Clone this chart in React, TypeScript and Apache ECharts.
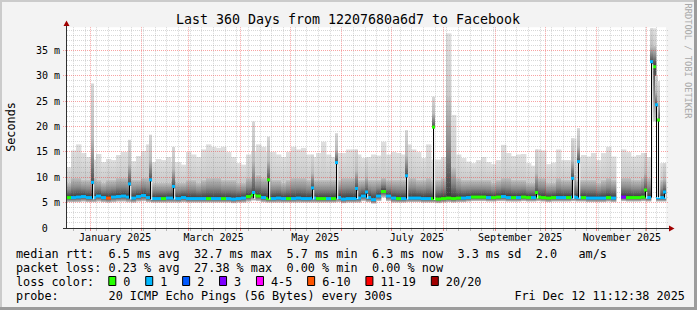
import React, { useEffect, useRef } from 'react';
import * as echarts from 'echarts';

// ---------- time range ----------
const START = '2024-12-17T11:12:38';
const END = '2025-12-12T11:12:38';
const BIN_DAYS = 3;
const Y_MAX = 39.6;

// ---------- smoke bins (3 days each, ms) ----------
const smokeMax = [
  12.0, 15.3, 16.5, 14.8, 14.0, 13.5, 14.6, 13.0, 13.6, 13.4,
  14.4, 15.0, 15.0, 13.2, 14.2, 15.2, 16.5, 13.0, 13.6, 13.4,
  14.0, 13.0, 13.0, 12.5, 15.0, 14.5, 14.0, 15.5, 16.5, 16.0,
  15.8, 16.0, 15.0, 14.0, 12.8, 12.5, 14.5, 15.0, 16.5, 16.0,
  15.0, 15.0, 14.5, 14.0, 15.0, 16.0, 15.5, 15.8, 14.5, 14.0,
  14.8, 17.0, 14.5, 14.0, 14.8, 14.8, 15.5, 15.5, 14.5, 13.8,
  14.0, 14.5, 14.3, 17.0, 14.5, 15.0, 14.8, 14.5, 16.5, 15.5,
  15.0, 13.8, 16.5, 13.5, 13.5, 14.0, 38.4, 22.3, 14.5, 13.8,
  13.1, 12.8, 13.4, 14.0, 13.0, 12.6, 13.4, 16.4, 14.8, 14.2,
  14.5, 14.6, 12.8, 12.3, 15.5, 15.3, 12.6, 12.9, 15.5, 13.4,
  13.4, 17.7, 14.0, 14.4, 14.1, 14.8, 13.4, 14.8, 16.0, 14.1,
  null, 15.5, 15.0, 14.1, 14.4, 14.8, 14.0, 39.4, 12.8, 12.8,
];
const smokeMid = [
  9.0, 10.0, 10.0, 9.5, 9.5, 10.0, 9.5, 9.0, 9.5, 9.5,
  10.0, 10.0, 10.0, 9.5, 9.5, 10.0, 10.0, 9.0, 9.0, 9.0,
  9.0, 9.5, 9.0, 9.0, 9.5, 9.5, 9.0, 9.5, 10.0, 10.0,
  10.0, 9.5, 9.5, 9.5, 9.0, 9.0, 10.0, 10.0, 10.5, 10.0,
  10.0, 9.5, 9.5, 9.0, 9.5, 10.0, 10.0, 10.0, 9.5, 9.5,
  9.5, 9.5, 9.5, 9.5, 9.5, 10.0, 10.0, 10.0, 9.5, 9.5,
  9.5, 9.5, 9.5, 10.0, 9.5, 9.5, 9.5, 9.5, 10.0, 10.0,
  9.5, 9.5, 10.0, 9.5, 9.5, 10.0, 26.0, 12.0, 10.0, 9.5,
  9.5, 9.5, 9.5, 9.5, 9.5, 9.0, 9.5, 10.0, 10.0, 9.5,
  9.5, 9.5, 9.0, 9.0, 10.0, 10.0, 9.0, 9.0, 10.0, 9.5,
  9.5, 10.5, 9.5, 9.5, 9.5, 9.5, 9.0, 9.5, 10.0, 9.5,
  null, 10.0, 10.0, 9.5, 9.5, 10.0, 10.0, 36.0, 9.5, 9.5,
];
const smokeLow = [
  5.1, 5.1, 5.1, 5.2, 5.1, 5.1, 5.2, 5.1, 5.0, 5.1,
  5.2, 5.2, 5.1, 5.0, 5.2, 5.3, 5.1, 5.0, 5.0, 5.0,
  5.0, 5.0, 5.0, 5.1, 5.0, 5.0, 5.0, 5.0, 5.0, 5.0,
  5.0, 5.0, 5.0, 4.9, 5.0, 5.0, 5.2, 5.4, 5.3, 5.1,
  5.0, 5.0, 5.0, 5.0, 5.0, 5.0, 5.0, 5.0, 5.0, 5.0,
  5.0, 5.0, 5.0, 5.0, 5.1, 4.9, 5.0, 5.0, 5.0, 5.3,
  5.1, 4.8, 5.3, 6.0, 5.3, 5.0, 5.0, 5.0, 5.1, 5.1,
  5.1, 5.0, 5.0, 5.0, 4.9, 5.0, 5.1, 5.0, 5.1, 5.1,
  5.2, 5.3, 5.3, 5.3, 5.2, 5.2, 5.3, 5.3, 5.2, 5.2,
  5.2, 5.3, 5.2, 5.2, 5.3, 5.2, 5.1, 5.2, 5.2, 5.2,
  5.2, 5.3, 5.2, 5.2, 5.1, 5.1, 5.1, 5.1, 5.2, 5.1,
  null, 5.3, 5.2, 5.2, 5.2, 5.3, 5.2, 21.0, 5.2, 5.2,
];
const medianRtt = [
  6.0, 6.0, 6.1, 6.2, 6.0, 6.0, 6.3, 6.0, 5.9, 6.1,
  6.2, 6.3, 6.1, 5.9, 6.2, 6.4, 6.0, 5.8, 5.8, 5.8,
  5.9, 5.9, 5.8, 6.0, 5.8, 5.8, 5.8, 5.8, 5.8, 5.8,
  5.8, 5.8, 5.8, 5.7, 5.8, 5.9, 6.2, 6.5, 6.3, 6.0,
  5.8, 5.8, 5.9, 5.8, 5.8, 5.8, 5.9, 5.8, 5.8, 5.9,
  5.8, 5.8, 5.8, 5.8, 6.0, 5.7, 5.8, 5.8, 5.9, 6.3,
  6.0, 5.6, 6.3, 7.2, 6.3, 5.9, 5.8, 5.8, 5.9, 5.9,
  5.9, 5.8, 5.8, 5.8, 5.7, 5.8, 5.9, 5.8, 5.9, 5.9,
  6.0, 6.1, 6.1, 6.1, 6.0, 6.0, 6.1, 6.2, 6.0, 6.0,
  6.0, 6.1, 6.0, 6.0, 6.1, 6.0, 5.9, 6.0, 6.0, 6.0,
  6.0, 6.1, 6.0, 6.0, 5.9, 5.9, 5.9, 5.9, 6.0, 5.9,
  null, 6.1, 6.0, 6.0, 6.0, 6.1, 6.0, 31.8, 6.0, 6.0,
];
const lossCount = [
  0, 1, 1, 1, 1, 1, 1, 1, 6, 1,
  1, 1, 1, 1, 1, 1, 1, 1, 1, 0,
  1, 1, 1, 1, 1, 1, 1, 1, 0, 1,
  1, 0, 1, 1, 1, 1, 0, 0, 0, 1,
  0, 1, 1, 1, 0, 1, 1, 1, 1, 1,
  0, 0, 1, 0, 1, 1, 1, 1, 1, 1,
  1, 1, 1, 0, 1, 1, 0, 1, 1, 1,
  1, 1, 1, 0, 0, 0, 0, 0, 0, 1,
  1, 0, 0, 0, 1, 0, 0, 1, 1, 0,
  1, 0, 0, 1, 0, 0, 0, 0, 1, 1,
  0, 1, 1, 0, 1, 1, 1, 1, 0, 1,
  null, 3, 0, 0, 0, 0, 1, 0, 1, 1,
];

// ---------- short median spikes ----------
const spikeTimes = [
  '2025-01-02T14:00:00', '2025-01-24T19:00:00', '2025-02-06T00:00:00', '2025-02-20T02:00:00',
  '2025-04-08T19:00:00', '2025-04-18T00:00:00', '2025-05-14T14:00:00', '2025-05-28T14:00:00',
  '2025-06-10T00:00:00', '2025-06-15T14:00:00', '2025-07-10T00:00:00', '2025-07-26T00:00:00',
  '2025-09-25T19:00:00', '2025-10-17T10:00:00', '2025-10-20T19:00:00', '2025-11-30T05:00:00',
  '2025-12-03T19:00:00', '2025-12-06T14:00:00', '2025-12-07T19:00:00', '2025-12-11T14:00:00',
];
const spikeMedian = [9.0, 8.7, 9.5, 8.2, 7.0, 9.5, 7.9, 12.9, 7.8, 7.1, 10.3, 19.9, 7.0, 9.8, 13.1, 7.5, 32.8, 24.3, 21.3, 7.1];
const spikeTop = [28.5, 17.4, 18.4, 16.0, 21.0, 18.0, 14.5, 18.7, 15.5, 13.8, 19.3, 25.9, 15.5, 17.7, 19.7, 14.8, 39.4, 30.0, 29.0, 12.8];
const spikeLoss = [1, 1, 1, 1, 1, 0, 1, 1, 1, 1, 1, 0, 0, 1, 1, 0, 1, 1, 0, 1];
const spikeBase = [5.8, 5.8, 5.7, 5.8, 5.9, 5.8, 5.8, 5.8, 5.9, 6.0, 5.8, 5.7, 6.0, 5.9, 6.0, 6.0, 6.0, 6.1, 6.1, 6.0];

// ---------- axis / legend text ----------
const yTickValues = [0, 5, 10, 15, 20, 25, 30, 35];
const monthLabels = ['January 2025', 'March 2025', 'May 2025', 'July 2025', 'September 2025', 'November 2025'];
const monthLabelDates = ['2025-01-16T00:00:00', '2025-03-16T00:00:00', '2025-05-16T00:00:00', '2025-07-16T00:00:00', '2025-09-16T00:00:00', '2025-11-16T00:00:00'];
const titleText = 'Last 360 Days from 12207680a6d7 to Facebook';
const rttLegend = ['median rtt:', '6.5 ms avg', '32.7 ms max', '5.7 ms min', '6.3 ms now', '3.3 ms sd', '2.0', 'am/s'];
const rttCols = [0, 13, 25, 38, 50, 62, 73, 79];
const lossLegend = ['packet loss:', '0.23 % avg', '27.38 % max', '0.00 % min', '0.00 % now'];
const lossCols = [0, 13, 25, 38, 50];
const lossLabels = ['0', '1', '2', '3', '4-5', '6-10', '11-19', '20/20'];
const lossColors = ['#26ff00', '#00b8ff', '#0059ff', '#7e00ff', '#ff00ff', '#ff5500', '#ff0000', '#a10000'];
const probeText = '20 ICMP Echo Pings (56 Bytes) every 300s';
const dateText = 'Fri Dec 12 11:12:38 2025';

const FONT = '"DejaVu Sans Mono", monospace';
const DAY = 86400000;

function lossColor(n: number): string {
  if (n <= 0) return lossColors[0];
  if (n === 1) return lossColors[1];
  if (n === 2) return lossColors[2];
  if (n === 3) return lossColors[3];
  if (n <= 5) return lossColors[4];
  if (n <= 10) return lossColors[5];
  if (n <= 19) return lossColors[6];
  return lossColors[7];
}

function txt(text: string, x: number, y: number, size: number, align = 'left', extra: any = {}) {
  return {
    type: 'text', x, y, z: 100, silent: true, ...extra,
    style: {
      text, fill: extra.fill || '#000', font: `${size}px ${FONT}`,
      align, textAlign: align, verticalAlign: 'middle', textVerticalAlign: 'middle',
    },
  };
}

export default function App() {
  const ref = useRef<HTMLDivElement>(null);
  useEffect(() => {
    const el = ref.current;
    if (!el) return;
    const chart = echarts.init(el, null, { renderer: 'svg' });
    const startMs = new Date(START).getTime();
    const endMs = new Date(END).getTime();

    const binData: any[] = [];
    smokeMax.forEach((mx, i) => {
      if (mx == null) return;
      binData.push([startMs + i * BIN_DAYS * DAY, startMs + (i + 1) * BIN_DAYS * DAY,
        smokeLow[i], medianRtt[i], smokeMid[i], mx, lossCount[i]]);
    });
    const spikeData = spikeTimes.map((t, i) => [new Date(t).getTime(), spikeMedian[i], spikeTop[i], spikeLoss[i], spikeBase[i]]);

    // grid lines (axis ticks)
    const vData: any[] = [];
    const monthStarts: number[] = [];
    for (let m = 0; m < 12; m++) monthStarts.push(new Date(2025, m, 1).getTime());
    monthStarts.forEach((t) => vData.push([t, 1]));
    const d = new Date(2024, 11, 22);
    while (d.getTime() <= endMs) {
      const t = d.getTime();
      if (!monthStarts.includes(t)) vData.push([t, 0]);
      d.setDate(d.getDate() + 7);
    }
    const hData: any[] = [];
    for (let v = 1; v < Y_MAX; v++) hData.push([startMs, v, v % 5 === 0 ? 1 : 0]);
    const labelData = monthLabelDates.map((t, i) => [new Date(t).getTime(), i]);

    const MAJOR = 'rgba(240,50,50,0.45)';
    const MINOR = 'rgba(130,130,130,0.32)';

    const series: any[] = [
      {
        type: 'custom', name: 'smoke', z: 2, clip: false, silent: true,
        encode: { x: [0, 1], y: [2, 5] }, data: binData,
        renderItem: (p: any, api: any) => {
          const t0 = api.value(0), t1 = api.value(1);
          const lo = api.value(2), med = api.value(3), mid = api.value(4), mx = api.value(5);
          const a = api.coord([t0, lo]);
          const b = api.coord([t1, lo]);
          const yMed = api.coord([t0, med])[1];
          const yMid = api.coord([t0, mid])[1];
          const yMax = api.coord([t0, mx])[1];
          const x0 = a[0], w = b[0] - a[0] + 0.4, yLo = a[1];
          return {
            type: 'group', children: [
              { type: 'rect', shape: { x: x0, y: yMax, width: w, height: yMid - yMax },
                style: { fill: new echarts.graphic.LinearGradient(0, 0, 0, 1, [
                  { offset: 0, color: '#dfdfdf' }, { offset: 1, color: '#cacaca' }]) } },
              { type: 'rect', shape: { x: x0, y: yMid, width: w, height: yMed - yMid },
                style: { fill: new echarts.graphic.LinearGradient(0, 0, 0, 1, [
                  { offset: 0, color: '#c4c4c4' }, { offset: 0.5, color: '#8a8a8a' }, { offset: 1, color: '#383838' }]) } },
              { type: 'rect', shape: { x: x0, y: yMed, width: w, height: yLo - yMed },
                style: { fill: new echarts.graphic.LinearGradient(0, 0, 0, 1, [
                  { offset: 0, color: '#404040' }, { offset: 1, color: '#c8c8c8' }]) } },
            ],
          };
        },
      },
      {
        type: 'custom', name: 'spikeSmoke', z: 3, clip: false, silent: true,
        encode: { x: 0, y: 1 }, data: spikeData,
        renderItem: (p: any, api: any) => {
          const t = api.value(0), med = api.value(1), top = api.value(2);
          const x = Math.floor(api.coord([t, 0])[0]);
          const yMed = api.coord([t, med])[1];
          const yTop = api.coord([t, top])[1];
          return {
            type: 'rect', shape: { x: x - 1, y: yTop, width: 3, height: yMed - yTop },
            style: { fill: new echarts.graphic.LinearGradient(0, 0, 0, 1, [
              { offset: 0, color: '#d6d6d6' }, { offset: 0.55, color: '#bcbcbc' }, { offset: 1, color: '#505050' }]) },
          };
        },
      },
      {
        type: 'custom', name: 'hgrid', z: 4, clip: false, silent: true,
        encode: { x: 0, y: 1 }, data: hData,
        renderItem: (p: any, api: any) => {
          const v = api.value(1), major = api.value(2) === 1;
          const p0 = api.coord([startMs, v]);
          const p1 = api.coord([endMs, v]);
          const y = Math.floor(p0[1]) + 0.5;
          return {
            type: 'line', shape: { x1: p0[0] - (major ? 3 : -1), y1: y, x2: p1[0] + 2, y2: y },
            style: { stroke: major ? MAJOR : MINOR, lineWidth: 1, lineDash: [1, 1] },
          };
        },
      },
      {
        type: 'custom', name: 'vgrid', z: 5, clip: false, silent: true,
        encode: { x: 0, y: 1 }, data: vData,
        renderItem: (p: any, api: any) => {
          const t = api.value(0), major = api.value(1) === 1;
          const pb = api.coord([t, 0]);
          const pt = api.coord([t, Y_MAX]);
          const x = Math.floor(pb[0]) + 0.5;
          return {
            type: 'group', children: [
              { type: 'line', shape: { x1: x, y1: pt[1], x2: x, y2: pb[1] },
                style: { stroke: major ? MAJOR : MINOR, lineWidth: 1, lineDash: [1, 1] } },
              { type: 'line', shape: { x1: x, y1: pb[1] + 1, x2: x, y2: pb[1] + 3 },
                style: { stroke: major ? '#f08080' : '#b8b8b8', lineWidth: 1 } },
            ],
          };
        },
      },
      {
        type: 'custom', name: 'median', z: 6, clip: false, silent: true,
        encode: { x: [0, 1], y: 3 }, data: binData,
        renderItem: (p: any, api: any) => {
          const t0 = api.value(0), t1 = api.value(1), med = api.value(3), loss = api.value(6);
          const a = api.coord([t0, med]);
          const b = api.coord([t1, med]);
          return {
            type: 'rect', shape: { x: a[0], y: a[1] - 1.5, width: b[0] - a[0], height: 3 },
            style: { fill: lossColor(loss) },
          };
        },
      },
      {
        type: 'custom', name: 'spikeLines', z: 7, clip: false, silent: true,
        encode: { x: 0, y: 1 }, data: spikeData,
        renderItem: (p: any, api: any) => {
          const t = api.value(0), med = api.value(1), loss = api.value(3), base = api.value(4);
          const x = Math.floor(api.coord([t, 0])[0]);
          const yMed = api.coord([t, med])[1];
          const yBase = api.coord([t, base])[1];
          return {
            type: 'group', children: [
              { type: 'rect', shape: { x, y: yMed, width: 1.2, height: yBase - yMed }, style: { fill: '#000' } },
              { type: 'rect', shape: { x: x + 1.2, y: yMed + 2, width: 1, height: yBase - yMed - 1 }, style: { fill: '#fff' } },
              { type: 'rect', shape: { x: x - 1, y: yMed - 1.5, width: 3, height: 3 }, style: { fill: lossColor(loss) } },
            ],
          };
        },
      },
      {
        type: 'custom', name: 'xlabels', z: 8, clip: false, silent: true,
        encode: { x: 0, y: 1 }, data: labelData,
        renderItem: (p: any, api: any) => {
          const t = api.value(0), idx = api.value(1);
          const pt = api.coord([t, 0]);
          return {
            type: 'text', x: pt[0], y: pt[1] + 9.5,
            style: { text: monthLabels[idx], fill: '#000', font: `10px ${FONT}`,
              align: 'center', textAlign: 'center', verticalAlign: 'middle', textVerticalAlign: 'middle' },
          };
        },
      },
    ];

    // graphic: frame, axes, texts, legend
    const CH = 7.12, LX = 16;
    const rows = [254.2, 268, 282, 296];
    const graphic: any[] = [
      { type: 'rect', z: 1, silent: true, shape: { x: 0, y: 0, width: 697, height: 2 }, style: { fill: '#cbcbcb' } },
      { type: 'rect', z: 1, silent: true, shape: { x: 0, y: 0, width: 2, height: 310 }, style: { fill: '#cbcbcb' } },
      { type: 'rect', z: 1, silent: true, shape: { x: 0, y: 307, width: 697, height: 3 }, style: { fill: '#9c9c9c' } },
      { type: 'rect', z: 1, silent: true, shape: { x: 694, y: 0, width: 3, height: 310 }, style: { fill: '#9c9c9c' } },
      { type: 'line', z: 100, silent: true, shape: { x1: 66.5, y1: 25, x2: 66.5, y2: 229 }, style: { stroke: '#303030', lineWidth: 1 } },
      { type: 'line', z: 100, silent: true, shape: { x1: 63, y1: 228.5, x2: 670, y2: 228.5 }, style: { stroke: '#303030', lineWidth: 1 } },
      { type: 'polygon', z: 101, silent: true, shape: { points: [[63.5, 26], [69.5, 26], [66.5, 20.5]] }, style: { fill: '#a00000' } },
      { type: 'polygon', z: 101, silent: true, shape: { points: [[669, 225.5], [669, 231.5], [674.5, 228.5]] }, style: { fill: '#a00000' } },
      txt(titleText, 348, 19, 13.3, 'center'),
      txt('Seconds', 10.5, 127, 11.8, 'center', { rotation: Math.PI / 2 }),
      txt('RRDTOOL / TOBI OETIKER', 688, 61, 8.7, 'center', { rotation: -Math.PI / 2, fill: '#a8a8a8' }),
    ];
    rttLegend.forEach((s, i) => graphic.push(txt(s, LX + rttCols[i] * CH, rows[0], 11.8)));
    lossLegend.forEach((s, i) => graphic.push(txt(s, LX + lossCols[i] * CH, rows[1], 11.8)));
    graphic.push(txt('loss color:', LX, rows[2], 11.8));
    let bx = 108.3;
    lossLabels.forEach((s, i) => {
      graphic.push({ type: 'rect', z: 100, silent: true, shape: { x: bx + 0.5, y: 276.5, width: 7, height: 9 },
        style: { fill: lossColors[i], stroke: '#000', lineWidth: 1 } });
      graphic.push(txt(s, bx + 15, rows[2], 11.8));
      bx = bx + 15 + s.length * CH + 14.8;
    });
    graphic.push(txt('probe:', LX, rows[3], 11.8));
    graphic.push(txt(probeText, LX + 13 * CH, rows[3], 11.8));
    graphic.push(txt(dateText, LX + 70 * CH, rows[3], 11.8));

    const option: any = {
      animation: false,
      backgroundColor: '#f3f3f3',
      grid: { left: 66, top: 228 - Y_MAX * 5.07, width: 600, height: Y_MAX * 5.07, show: true,
        backgroundColor: '#ffffff', borderWidth: 0 },
      xAxis: { type: 'time', min: startMs, max: endMs, show: false },
      yAxis: {
        type: 'value', min: 0, max: Y_MAX, interval: 5,
        axisLine: { show: false }, axisTick: { show: false }, splitLine: { show: false },
        axisLabel: {
          show: true, margin: 6, color: '#000', fontFamily: FONT, fontSize: 10, showMaxLabel: false,
          formatter: (v: number) => (yTickValues.includes(v) ? (v === 0 ? '{z|0}' : `${v} m`) : ''),
          rich: { z: { fontFamily: FONT, fontSize: 10, color: '#000', padding: [0, 12.2, 0, 0] } },
        },
      },
      series,
      graphic,
    };
    chart.setOption(option);
    return () => chart.dispose();
  }, []);
  return <div ref={ref} style={{ position: 'fixed', left: 0, top: 0, width: 697, height: 310 }} />;
}
